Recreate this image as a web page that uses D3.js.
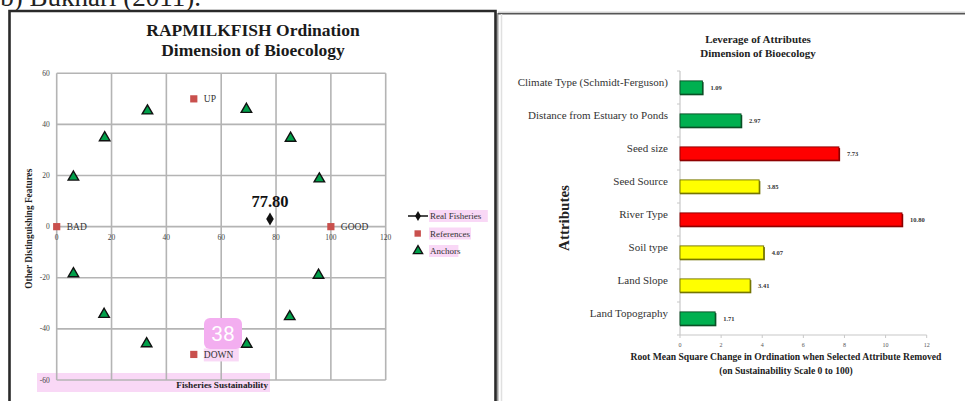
<!DOCTYPE html>
<html>
<head>
<meta charset="utf-8">
<script src="https://cdn.jsdelivr.net/npm/d3@7/dist/d3.min.js"></script>
<style>
  html, body { margin: 0; padding: 0; background: #fff; }
  svg { display: block; font-family: "Liberation Serif", "Times New Roman", serif; }
</style>
</head>
<body>
<svg id="fig" width="965" height="401"></svg>
<script>
// ---- Ordination (left panel) ----
const ordTitle = ["RAPMILKFISH Ordination", "Dimension of Bioecology"];
const ordTicks = [-60, -40, -20, 0, 20, 40, 60];
const ordXTicks = [0, 20, 40, 60, 80, 100, 120];
const realFisheries = [{x: 77.80, y: 3.0, label: "77.80"}];
const references = [
  {x: 0, y: 0, label: "BAD"},
  {x: 100, y: 0, label: "GOOD"},
  {x: 50, y: 50, label: "UP"},
  {x: 50, y: -50, label: "DOWN"}
];
const anchorsX = [6.1, 17.5, 33.1, 69.2, 85.3, 95.8, 6.1, 17.3, 32.8, 69.3, 85.0, 95.5];
const anchorsY = [19.4, 34.8, 45.3, 45.9, 34.6, 18.7, -18.4, -34.3, -45.8, -46.0, -35.2, -19.0];
const legendNames = ["Real Fisheries", "References", "Anchors"];

// ---- Leverage (right panel) ----
const levTitle = ["Leverage of Attributes", "Dimension of Bioecology"];
const attributes = [
  "Climate Type (Schmidt-Ferguson)",
  "Distance from Estuary to Ponds",
  "Seed size",
  "Seed Source",
  "River Type",
  "Soil type",
  "Land Slope",
  "Land Topography"
];
const leverage = [1.09, 2.97, 7.73, 3.85, 10.80, 4.07, 3.41, 1.71];
const leverageClass = ["low", "low", "high", "mid", "high", "mid", "mid", "low"];
const levTicks = [0, 2, 4, 6, 8, 10, 12];

const svg = d3.select("#fig");
const pink = "#f9d8f6";

// caption line running off the top of the page
svg.append("text").attr("x", 201).attr("y", 6).attr("text-anchor", "end")
  .attr("font-size", 27).attr("fill", "#222").text("b) Bukhari (2011).");

// ================= left panel =================
const left = svg.append("g");
// panel frame with a faint shadow on the right
left.append("line").attr("x1", 497.5).attr("x2", 497.5).attr("y1", 13).attr("y2", 401)
  .attr("stroke", "#9a9a9a").attr("stroke-width", 2);
left.append("path").attr("d", "M9.5,401 V11 H495.5 V401")
  .attr("fill", "none").attr("stroke", "#2a2a2a").attr("stroke-width", 2.6);

left.selectAll("text.title").data(ordTitle).join("text")
  .attr("x", 253).attr("y", (d, i) => 36 + i * 19.5)
  .attr("text-anchor", "middle").attr("font-weight", "bold").attr("font-size", 17.5)
  .attr("fill", "#1a1a1a").text(d => d);

const x = d3.scaleLinear().domain([0, 120]).range([56.7, 385.7]);
const y = d3.scaleLinear().domain([-60, 60]).range([380, 73.3]);

// highlighted strip behind the x-axis title
left.append("rect").attr("x", 37).attr("y", 373).attr("width", 233).attr("height", 19).attr("fill", pink);

// grid
const grid = left.append("g").attr("stroke", "#b4b4b4").attr("stroke-width", 1.6);
grid.selectAll("line.v").data(ordXTicks).join("line")
  .attr("x1", d => x(d)).attr("x2", d => x(d)).attr("y1", y(60)).attr("y2", y(-60));
grid.selectAll("line.h").data(ordTicks).join("line")
  .attr("x1", x(0)).attr("x2", x(120)).attr("y1", d => y(d)).attr("y2", d => y(d));

// tick labels
left.selectAll("text.xt").data(ordXTicks).join("text")
  .attr("x", d => x(d)).attr("y", y(0) + 13).attr("text-anchor", "middle")
  .attr("font-size", 7.5).attr("fill", "#444").text(d => d);
left.selectAll("text.yt").data(ordTicks).join("text")
  .attr("x", x(0) - 7).attr("y", d => y(d) + 2.5).attr("text-anchor", "end")
  .attr("font-size", 7.5).attr("fill", "#444").text(d => d);

// axis titles
left.append("text").attr("transform", `translate(32,${y(0) + 2}) rotate(-90)`)
  .attr("text-anchor", "middle").attr("font-weight", "bold").attr("font-size", 9.3)
  .attr("fill", "#222").text("Other Distinguishing Features");
left.append("text").attr("x", 268).attr("y", 388).attr("text-anchor", "end")
  .attr("font-weight", "bold").attr("font-size", 9.2).attr("fill", "#222").text("Fisheries Sustainability");

// anchors
const tri = d3.symbol().type(d3.symbolTriangle).size(48);
const anchors = anchorsX.map((v, i) => ({x: v, y: anchorsY[i]}));
left.selectAll("path.anchor").data(anchors).join("path")
  .attr("d", tri).attr("transform", d => `translate(${x(d.x)},${y(d.y)})`)
  .attr("fill", "#00a04a").attr("stroke", "#111").attr("stroke-width", 1.4);

// references
left.selectAll("rect.ref").data(references).join("rect")
  .attr("x", d => x(d.x) - 3.6).attr("y", d => y(d.y) - 3.6)
  .attr("width", 7.2).attr("height", 7.2).attr("fill", "#c9504d");
// highlight behind DOWN
const down = references.find(d => d.label === "DOWN");
left.append("rect").attr("x", x(down.x) + 10).attr("y", y(down.y) - 6)
  .attr("width", 35).attr("height", 13).attr("fill", pink);
left.selectAll("text.ref").data(references).join("text")
  .attr("x", d => x(d.x) + 10).attr("y", d => y(d.y) + 3.5)
  .attr("font-size", 9.5).attr("fill", "#333").text(d => d.label);

// real fisheries point
left.selectAll("path.real").data(realFisheries).join("path")
  .attr("d", d3.symbol().type(d3.symbolDiamond).size(50))
  .attr("transform", d => `translate(${x(d.x)},${y(d.y)})`).attr("fill", "#111");
left.selectAll("text.real").data(realFisheries).join("text")
  .attr("x", d => x(d.x)).attr("y", d => y(d.y) - 12).attr("text-anchor", "middle")
  .attr("font-weight", "bold").attr("font-size", 16.5).attr("fill", "#111").text(d => d.label);

// page marker badge
left.append("rect").attr("x", 204).attr("y", 318).attr("width", 38).attr("height", 31)
  .attr("rx", 6).attr("fill", "#f3aef0");
left.append("text").attr("x", 223).attr("y", 341).attr("text-anchor", "middle")
  .attr("font-family", "Roboto, 'Noto Sans', sans-serif").attr("font-size", 21)
  .attr("fill", "#fff").text("38");

// legend
const lg = left.append("g");
const lgY = [216, 233.5, 251];
legendNames.forEach((name, i) => {
  lg.append("rect").attr("x", 429).attr("y", lgY[i] - 6).attr("width", name.length * 4.2)
    .attr("height", 12).attr("fill", pink);
  lg.append("text").attr("x", 430).attr("y", lgY[i] + 3).attr("font-size", 9)
    .attr("fill", "#333").text(name);
});
lg.append("line").attr("x1", 408).attr("x2", 428).attr("y1", lgY[0]).attr("y2", lgY[0])
  .attr("stroke", "#111").attr("stroke-width", 1.5);
lg.append("path").attr("d", d3.symbol().type(d3.symbolDiamond).size(30))
  .attr("transform", `translate(418,${lgY[0]})`).attr("fill", "#111");
lg.append("rect").attr("x", 414.5).attr("y", lgY[1] - 3.2).attr("width", 6.4).attr("height", 6.4)
  .attr("fill", "#c9504d");
lg.append("path").attr("d", d3.symbol().type(d3.symbolTriangle).size(38))
  .attr("transform", `translate(418,${lgY[2]})`).attr("fill", "#00a04a")
  .attr("stroke", "#111").attr("stroke-width", 1.3);

// ================= right panel =================
const right = svg.append("g");
right.append("line").attr("x1", 498).attr("x2", 965).attr("y1", 13.8).attr("y2", 13.8)
  .attr("stroke", "#555").attr("stroke-width", 1.6);
right.append("line").attr("x1", 498).attr("x2", 965).attr("y1", 12.2).attr("y2", 12.2)
  .attr("stroke", "#bbb").attr("stroke-width", 1);
right.append("line").attr("x1", 501.5).attr("x2", 501.5).attr("y1", 14).attr("y2", 401)
  .attr("stroke", "#e0e0e0").attr("stroke-width", 1.5);

right.selectAll("text.title").data(levTitle).join("text")
  .attr("x", 758).attr("y", (d, i) => 42.5 + i * 14)
  .attr("text-anchor", "middle").attr("font-weight", "bold").attr("font-size", 11)
  .attr("fill", "#222").text(d => d);

const xb = d3.scaleLinear().domain([0, 12]).range([680, 926.7]);
const yb = d3.scaleBand().domain(attributes).range([71, 335]).paddingInner(0.6).paddingOuter(0.3);
const fillOf = {low: "#00b050", mid: "#ffff00", high: "#ff0000"};
const edgeOf = {low: "#0b4d25", mid: "#707000", high: "#8a0000"};

// axes lines
right.append("line").attr("x1", xb(0)).attr("x2", xb(0)).attr("y1", 71).attr("y2", 335)
  .attr("stroke", "#c8c8c8").attr("stroke-width", 1.2);
right.append("line").attr("x1", xb(0)).attr("x2", xb(12)).attr("y1", 335).attr("y2", 335)
  .attr("stroke", "#c8c8c8").attr("stroke-width", 1.2);
right.selectAll("line.yt").data(d3.range(attributes.length + 1)).join("line")
  .attr("x1", xb(0) - 3).attr("x2", xb(0)).attr("y1", i => 71 + i * yb.step()).attr("y2", i => 71 + i * yb.step())
  .attr("stroke", "#c8c8c8");
right.selectAll("line.xt").data(levTicks).join("line")
  .attr("x1", d => xb(d)).attr("x2", d => xb(d)).attr("y1", 335).attr("y2", 338)
  .attr("stroke", "#c8c8c8");
right.selectAll("text.xt").data(levTicks).join("text")
  .attr("x", d => xb(d)).attr("y", 347).attr("text-anchor", "middle")
  .attr("font-size", 6).attr("fill", "#555").text(d => d);

// category labels
right.selectAll("text.cat").data(attributes).join("text")
  .attr("x", 668).attr("y", d => yb(d) + yb.bandwidth() / 2 - 1.5)
  .attr("text-anchor", "end").attr("font-size", 11).attr("fill", "#333").text(d => d);

// bars with a darker edge
const bars = attributes.map((a, i) => ({a, v: leverage[i], c: leverageClass[i]}));
right.selectAll("rect.shadow").data(bars).join("rect")
  .attr("x", xb(0)).attr("y", d => yb(d.a) + 1.2)
  .attr("width", d => xb(d.v) - xb(0) + 1.2).attr("height", yb.bandwidth())
  .attr("fill", d => edgeOf[d.c]);
right.selectAll("rect.bar").data(bars).join("rect")
  .attr("x", xb(0)).attr("y", d => yb(d.a))
  .attr("width", d => xb(d.v) - xb(0)).attr("height", yb.bandwidth())
  .attr("fill", d => fillOf[d.c]).attr("stroke", d => edgeOf[d.c]).attr("stroke-width", 0.9);
right.selectAll("text.val").data(bars).join("text")
  .attr("x", d => xb(d.v) + 8).attr("y", d => yb(d.a) + yb.bandwidth() / 2 + 2.5)
  .attr("font-size", 6.5).attr("font-weight", "bold").attr("fill", "#333")
  .text(d => d.v.toFixed(2));

// axis titles
right.append("text").attr("transform", `translate(569,218) rotate(-90)`)
  .attr("text-anchor", "middle").attr("font-weight", "bold").attr("font-size", 15)
  .attr("fill", "#222").text("Attributes");
right.append("text").attr("x", 786).attr("y", 360).attr("text-anchor", "middle")
  .attr("font-weight", "bold").attr("font-size", 9.6).attr("fill", "#222")
  .text("Root Mean Square Change in Ordination when Selected Attribute Removed");
right.append("text").attr("x", 786).attr("y", 374).attr("text-anchor", "middle")
  .attr("font-weight", "bold").attr("font-size", 9.6).attr("fill", "#222")
  .text("(on Sustainability Scale 0 to 100)");
</script>
</body>
</html>
